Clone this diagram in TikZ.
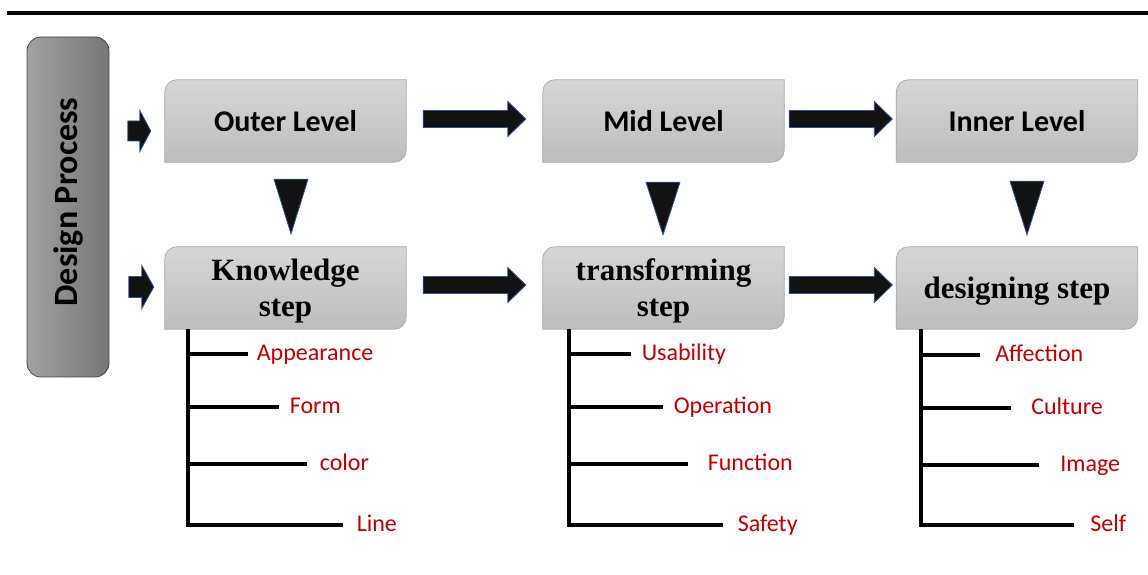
\documentclass[tikz,border=0pt]{standalone}
\usepackage{fontspec}
\setmainfont{Liberation Serif}
\setsansfont{Carlito}
\usetikzlibrary{calc,backgrounds}

\definecolor{itemred}{HTML}{C00000}
\definecolor{arrowedge}{HTML}{2F4F8F}
\definecolor{boxtop}{HTML}{D6D6D6}
\definecolor{boxbot}{HTML}{BDBDBD}
\definecolor{boxedge}{HTML}{A8A8A8}
\definecolor{sideleft}{HTML}{A2A2A2}
\definecolor{sideright}{HTML}{767676}
\definecolor{sideedge}{HTML}{444444}

% box with rounded top-left and bottom-right corners, drawn behind a node
\newcommand\diagbox[1]{%
  \path[boxshade] (#1.south west) -- ($(#1.north west)+(0,-12)$)
    arc[start angle=180,end angle=90,radius=12] -- (#1.north east)
    -- ($(#1.south east)+(0,12)$) arc[start angle=0,end angle=-90,radius=12] -- cycle;}

% horizontal block arrow: start, tip, shaft width, head width, head length
\newcommand\hblock[5]{%
  \path[blockarrow] ($(#1)+(0,#3/2)$) -- ($(#2)+(-#5,#3/2)$) -- ($(#2)+(-#5,#4/2)$)
    -- (#2) -- ($(#2)+(-#5,-#4/2)$) -- ($(#2)+(-#5,-#3/2)$) -- ($(#1)+(0,-#3/2)$) -- cycle;}

% downward triangle: centre of top edge, tip
\newcommand\vtri[2]{%
  \path[blockarrow] ($(#1)+(-17,0)$) -- ($(#1)+(17,0)$) -- (#2) -- cycle;}

\begin{document}
\begin{tikzpicture}[x=1pt,y=1pt,
  box/.style={minimum width=241pt, minimum height=82pt, inner sep=0pt, align=center},
  level/.style={box, font=\sffamily\bfseries\fontsize{30}{36}\selectfont},
  steptext/.style={inner sep=0pt, align=center, font=\rmfamily\bfseries\fontsize{31}{36}\selectfont},
  boxshade/.style={top color=boxtop, bottom color=boxbot, draw=boxedge, line width=0.7pt},
  item/.style={anchor=mid west, inner sep=0pt, yshift=-4pt, text=itemred, font=\sffamily\fontsize{24}{28}\selectfont},
  tree/.style={line width=4pt, black, line join=miter},
  blockarrow/.style={fill=black!93, draw=arrowedge, line width=0.8pt},
]
\useasboundingbox (0,0) rectangle (1148,575);

% top rule
\coordinate (ruleL) at (7,562);
\coordinate (ruleR) at (1148,562);
\draw[line width=4pt] (ruleL) -- (ruleR);

% side banner
\node[minimum width=82pt, minimum height=340pt, rounded corners=14pt, inner sep=0pt,
      left color=sideleft, right color=sideright, draw=sideedge, line width=0.8pt] (dp) at (68,368) {};
\node[rotate=90, font=\sffamily\bfseries\fontsize{34}{40}\selectfont] (dptext) at (68,373) {Design Process};

% level boxes
\node[level] (outer) at (285.5,454) {Outer Level};
\node[level] (mid)   at (663.5,454) {Mid Level};
\node[level] (inner) at (1017,454)  {Inner Level};
% step boxes and their captions
\node[box] (know)  at (285.5,287) {};
\node[box] (trans) at (663.5,287) {};
\node[box] (desig) at (1017,287)  {};
\node[steptext] (knowtext)  at ($(know.center)+(0,-3)$)  {Knowledge\\step};
\node[steptext] (transtext) at ($(trans.center)+(0,-3)$) {transforming\\step};
\node[steptext] (desigtext) at ($(desig.center)+(0,-3)$) {designing step};

\begin{scope}[on background layer]
  \foreach \n in {outer,mid,inner,know,trans,desig} {\diagbox{\n}}
\end{scope}

% entry arrows
\coordinate (e1s) at ($(outer.west)+(-37,-10)$);
\coordinate (e1e) at ($(outer.west)+(-14,-10)$);
\hblock{e1s}{e1e}{20}{41}{11}
\coordinate (e2s) at ($(know.west)+(-36,1)$);
\coordinate (e2e) at ($(know.west)+(-11,1)$);
\hblock{e2s}{e2e}{21}{43}{12}

% arrows between boxes
\coordinate (a1s) at ($(outer.east)+(17,2)$);
\coordinate (a1e) at ($(mid.west)+(-17,2)$);
\hblock{a1s}{a1e}{17}{35}{18}
\coordinate (a2s) at ($(mid.east)+(5,2)$);
\coordinate (a2e) at ($(inner.west)+(-4,2)$);
\hblock{a2s}{a2e}{17}{35}{18}
\coordinate (a3s) at ($(know.east)+(17,3)$);
\coordinate (a3e) at ($(trans.west)+(-17,3)$);
\hblock{a3s}{a3e}{17}{35}{18}
\coordinate (a4s) at ($(trans.east)+(5,3)$);
\coordinate (a4e) at ($(desig.west)+(-4,3)$);
\hblock{a4s}{a4e}{17}{35}{18}

% downward triangles
\coordinate (t1) at ($(outer.south)+(5.5,-17)$);
\coordinate (t1tip) at ($(know.north)+(5.5,13)$);
\vtri{t1}{t1tip}
\coordinate (t2) at ($(mid.south)+(-0.5,-20)$);
\coordinate (t2tip) at ($(trans.north)+(-0.5,12)$);
\vtri{t2}{t2tip}
\coordinate (t3) at ($(inner.south)+(10,-19)$);
\coordinate (t3tip) at ($(desig.north)+(10,12)$);
\vtri{t3}{t3tip}

% knowledge step tree
\coordinate (k0) at ($(know.south west)+(23,0)$);
\draw[tree] (k0) -- ++(0,-196) -- ++(155,0) node[item, xshift=12] (kline) {Line};
\draw[tree] ($(k0)+(0,-25)$) -- ++(60,0) node[item, xshift=7] (kapp) {Appearance};
\draw[tree] ($(k0)+(0,-78)$) -- ++(91,0) node[item, xshift=9] (kform) {Form};
\draw[tree] ($(k0)+(0,-135)$) -- ++(119,0) node[item, xshift=11] (kcolor) {color};

% transforming step tree
\coordinate (r0) at ($(trans.south west)+(26,0)$);
\draw[tree] (r0) -- ++(0,-196) -- ++(154,0) node[item, xshift=13] (rsafe) {Safety};
\draw[tree] ($(r0)+(0,-25)$) -- ++(62,0) node[item, xshift=9] (ruse) {Usability};
\draw[tree] ($(r0)+(0,-78)$) -- ++(94,0) node[item, xshift=9] (rop) {Operation};
\draw[tree] ($(r0)+(0,-135)$) -- ++(119,0) node[item, xshift=18] (rfun) {Function};

% designing step tree
\coordinate (d0) at ($(desig.south west)+(25,0)$);
\draw[tree] (d0) -- ++(0,-196) -- ++(153,0) node[item, xshift=14] (dself) {Self};
\draw[tree] ($(d0)+(0,-26)$) -- ++(59,0) node[item, xshift=13] (daff) {Affection};
\draw[tree] ($(d0)+(0,-79)$) -- ++(90,0) node[item, xshift=18] (dcul) {Culture};
\draw[tree] ($(d0)+(0,-136)$) -- ++(118,0) node[item, xshift=19] (dimg) {Image};
\end{tikzpicture}
\end{document}
